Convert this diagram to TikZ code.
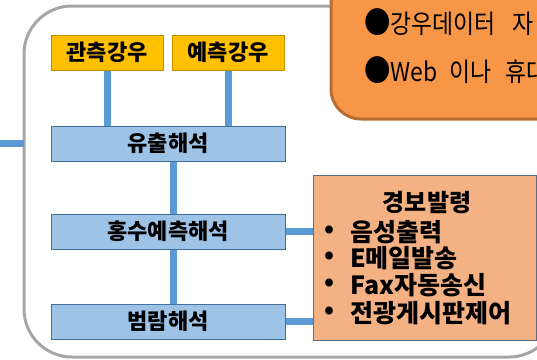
\documentclass[tikz,border=0pt]{standalone}
\usepackage{fontspec}
\setmainfont{Noto Sans CJK KR}
\newfontfamily\notefont{Noto Sans CJK KR}[FakeStretch=0.88]
\usetikzlibrary{backgrounds,calc}
\definecolor{ybox}{HTML}{FFC000}
\definecolor{yedge}{HTML}{BF9000}
\definecolor{bbox}{HTML}{9DC3E6}
\definecolor{bedge}{HTML}{41719C}
\definecolor{conn}{HTML}{5B9BD5}
\definecolor{abox}{HTML}{F4B183}
\definecolor{aedge}{HTML}{5A6F86}
\definecolor{obox}{HTML}{F79646}
\definecolor{oedge}{HTML}{B66D31}
\definecolor{frame}{HTML}{A6A6A6}
\newcommand{\bigdot}{{\fontsize{30}{30}\selectfont ●}}
\tikzset{
  rainbox/.style={draw=yedge, line width=1pt, fill=ybox, minimum width=112pt, minimum height=35pt, inner sep=0pt, font=\fontsize{22}{26}\selectfont\bfseries},
  anbox/.style={draw=bedge, line width=1pt, fill=bbox, minimum width=234pt, minimum height=35pt, inner sep=0pt, font=\fontsize{22}{26}\selectfont\bfseries},
  link/.style={draw=conn, line width=7pt},
  itemtxt/.style={anchor=west, inner sep=0pt, font=\fontsize{25}{28}\selectfont\bfseries},
  toptxt/.style={anchor=west, inner sep=0pt, font=\fontsize{26}{28}\notefont},
}
\begin{document}
\begin{tikzpicture}[x=1pt,y=-1pt]
\useasboundingbox (0,0) rectangle (537,359);
\clip (0,0) rectangle (537,359);
% nodes
\node[rainbox] (obs) at (107,52.5) {관측강우};
\node[rainbox] (fcst) at (228,52.5) {예측강우};
\node[anbox] (runoff) at (168,143.5) {유출해석};
\node[anbox] (flood) at (168,231.5) {홍수예측해석};
\node[anbox] (inund) at (168,321.5) {범람해석};
\node[draw=aedge, line width=1pt, fill=abox, minimum width=223pt, minimum height=165pt, inner sep=0pt] (alarm) at (424.5,257.5) {};
\node[font=\fontsize{24}{28}\selectfont\bfseries, inner sep=0pt] (atitle) at (427,203) {경보발령};
\node[itemtxt] (b1) at (324,232) {•};
\node[itemtxt] (i1) at (350,232) {음성출력};
\node[itemtxt] (b2) at (324,258) {•};
\node[itemtxt] (i2) at (350,258) {E메일발송};
\node[itemtxt] (b3) at (324,285) {•};
\node[itemtxt] (i3) at (350,285) {Fax자동송신};
\node[itemtxt] (b4) at (324,313) {•};
\node[itemtxt] (i4) at (350,313) {전광게시판제어};
% top-right orange note
\draw[draw=oedge, line width=3pt, fill=obox, rounded corners=30pt] (331,-40) rectangle (620,119);
\node[toptxt] (t1) at (364,22) {\bigdot 강우데이터\hspace{17pt}자};
\node[toptxt] (t2) at (364,70) {\bigdot Web\hspace{12pt}이나\hspace{14pt}휴대};
\coordinate (lin) at (0,143);
\coordinate (fl) at (24,143);
\begin{scope}[on background layer]
\draw[frame, line width=3pt, rounded corners=48pt] (24,6) rectangle (557,357);
\draw[link] (lin) -- (fl);
\draw[link] (obs.south) -- (obs.south |- runoff.north);
\draw[link] (fcst.south) -- (fcst.south |- runoff.north);
\draw[link] ($(runoff.south)+(5,0)$) -- ($(flood.north)+(5,0)$);
\draw[link] ($(flood.south)+(5,0)$) -- ($(inund.north)+(5,0)$);
\draw[link] (flood.east) -- (flood.east -| alarm.west);
\draw[link] (inund.east) -- (inund.east -| alarm.west);
\end{scope}
\end{tikzpicture}
\end{document}
